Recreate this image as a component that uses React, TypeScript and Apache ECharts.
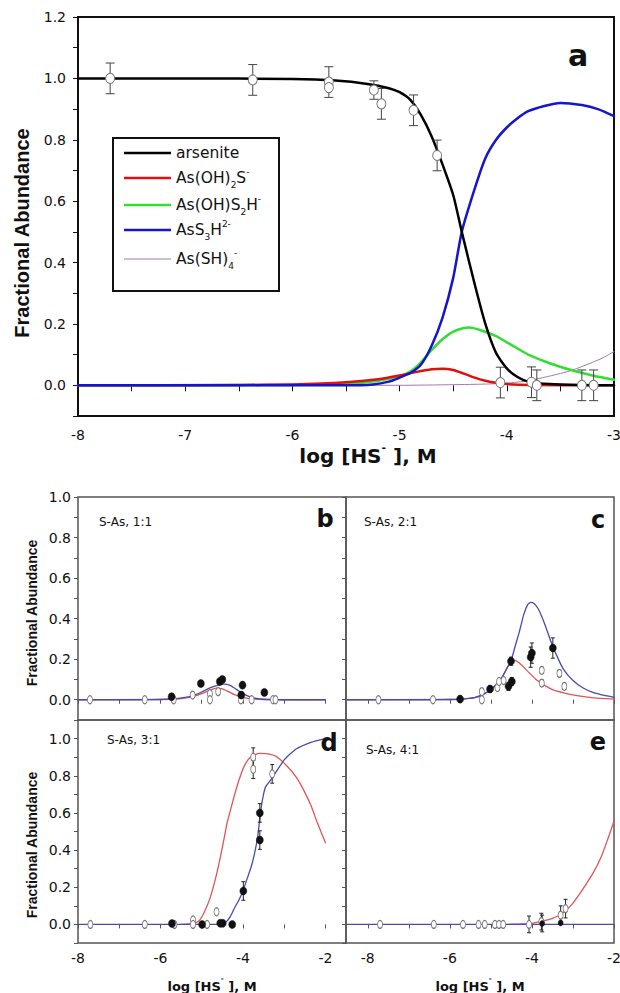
import React, { useEffect, useRef } from 'react';
import * as echarts from 'echarts';

// ---------- Panel a (model curves: [log HS-, fraction]) ----------
const aArsenite = [[-8, 1], [-7, 1], [-6, 0.998], [-5.6, 0.993], [-5.3, 0.982], [-5.1, 0.968], [-5.0, 0.955], [-4.9, 0.93], [-4.8, 0.88], [-4.7, 0.81], [-4.6, 0.72], [-4.5, 0.62], [-4.42, 0.5], [-4.3, 0.33], [-4.2, 0.2], [-4.1, 0.105], [-4.0, 0.055], [-3.9, 0.027], [-3.8, 0.012], [-3.6, 0.004], [-3.3, 0.001], [-3, 0]];
const aMono = [[-8, 0], [-6.5, 0.001], [-6, 0.003], [-5.5, 0.01], [-5.2, 0.02], [-5.0, 0.032], [-4.85, 0.043], [-4.7, 0.052], [-4.6, 0.054], [-4.5, 0.05], [-4.4, 0.038], [-4.3, 0.025], [-4.2, 0.015], [-4.1, 0.008], [-4.0, 0.004], [-3.8, 0.001], [-3, 0]];
const aDi = [[-8, 0], [-6, 0.001], [-5.5, 0.005], [-5.2, 0.015], [-5.0, 0.03], [-4.9, 0.045], [-4.8, 0.075], [-4.7, 0.115], [-4.6, 0.15], [-4.5, 0.175], [-4.4, 0.187], [-4.35, 0.188], [-4.25, 0.18], [-4.1, 0.16], [-4.0, 0.14], [-3.9, 0.12], [-3.8, 0.1], [-3.6, 0.072], [-3.4, 0.05], [-3.2, 0.032], [-3, 0.018]];
const aTri = [[-8, 0], [-5.5, 0], [-5.25, 0.003], [-5.1, 0.012], [-5.0, 0.025], [-4.9, 0.04], [-4.8, 0.068], [-4.7, 0.13], [-4.6, 0.22], [-4.5, 0.35], [-4.42, 0.5], [-4.3, 0.64], [-4.2, 0.74], [-4.1, 0.8], [-4.0, 0.84], [-3.9, 0.87], [-3.8, 0.893], [-3.65, 0.91], [-3.5, 0.92], [-3.3, 0.913], [-3.15, 0.9], [-3, 0.877]];
const aTetra = [[-8, 0], [-5, 0], [-4.5, 0.002], [-4.2, 0.004], [-4, 0.007], [-3.8, 0.015], [-3.6, 0.03], [-3.4, 0.048], [-3.2, 0.075], [-3.1, 0.09], [-3, 0.11]];
// measured arsenite points
const aPtsX = [-7.7, -6.37, -5.66, -5.66, -5.24, -5.17, -4.87, -4.65, -4.06, -3.77, -3.72, -3.3, -3.19];
const aPtsY = [1.0, 0.995, 0.988, 0.97, 0.962, 0.917, 0.896, 0.749, 0.009, 0.01, 0.0, 0.0, 0.0];
const aPtsErr = [0.05, 0.05, 0.05, 0.0, 0.03, 0.05, 0.05, 0.05, 0.05, 0.05, 0.05, 0.05, 0.05];

// ---------- Panel b (S-As 1:1) ----------
const bBlue = [[-8, 0], [-6.5, 0], [-6, 0.001], [-5.7, 0.004], [-5.4, 0.012], [-5.2, 0.022], [-5.0, 0.038], [-4.8, 0.058], [-4.6, 0.072], [-4.45, 0.077], [-4.3, 0.07], [-4.15, 0.05], [-4.0, 0.03], [-3.8, 0.012], [-3.6, 0.004], [-3.4, 0.001], [-3, 0], [-2, 0]];
const bRed = [[-8, 0], [-6, 0.001], [-5.5, 0.006], [-5.2, 0.017], [-5.0, 0.03], [-4.8, 0.047], [-4.65, 0.057], [-4.5, 0.054], [-4.35, 0.04], [-4.2, 0.025], [-4.0, 0.012], [-3.8, 0.004], [-3.5, 0.001], [-3, 0], [-2, 0]];
const bFilledX = [-5.73, -5.02, -4.56, -4.5, -4.01, -4.04, -3.48];
const bFilledY = [0.015, 0.08, 0.09, 0.1, 0.072, 0.023, 0.036];
const bFilledErr = [0.015, 0.015, 0.015, 0.015, 0.015, 0.015, 0.015];
const bOpenX = [-7.71, -6.38, -5.68, -5.22, -4.8, -4.8, -4.6, -4.05, -3.79, -3.27, -3.21];
const bOpenY = [0, 0, 0, 0.023, 0.03, 0.0, 0.04, 0, 0, 0, 0];
const bOpenErr = [0.012, 0.012, 0.012, 0.012, 0.012, 0.012, 0.012, 0.012, 0.012, 0.012, 0.012];

// ---------- Panel c (S-As 2:1) ----------
const cBlue = [[-8.5, 0], [-6.5, 0], [-6, 0.001], [-5.7, 0.003], [-5.4, 0.01], [-5.2, 0.025], [-5.0, 0.05], [-4.8, 0.09], [-4.7, 0.12], [-4.5, 0.2], [-4.4, 0.27], [-4.3, 0.34], [-4.2, 0.42], [-4.1, 0.47], [-4.03, 0.48], [-3.95, 0.475], [-3.85, 0.45], [-3.7, 0.38], [-3.56, 0.3], [-3.4, 0.22], [-3.23, 0.15], [-3.0, 0.095], [-2.75, 0.058], [-2.5, 0.035], [-2.2, 0.02], [-2.0, 0.012]];
const cRed = [[-8.5, 0], [-6, 0.001], [-5.7, 0.003], [-5.4, 0.01], [-5.2, 0.025], [-5.0, 0.05], [-4.8, 0.09], [-4.7, 0.12], [-4.6, 0.16], [-4.5, 0.185], [-4.42, 0.194], [-4.3, 0.18], [-4.1, 0.14], [-3.9, 0.1], [-3.7, 0.072], [-3.5, 0.05], [-3.2, 0.033], [-2.9, 0.02], [-2.5, 0.009], [-2.0, 0.003]];
const cFilledX = [-5.75, -5.02, -4.57, -4.49, -4.51, -4.03, -4.0, -3.49];
const cFilledY = [0.003, 0.053, 0.066, 0.09, 0.19, 0.21, 0.23, 0.255];
const cFilledErr = [0.015, 0.015, 0.02, 0.02, 0.02, 0.05, 0.05, 0.05];
const cOpenX = [-7.74, -6.41, -5.22, -5.22, -4.84, -4.8, -4.69, -3.76, -3.76, -3.33, -3.21];
const cOpenY = [0, 0, 0.04, 0.0, 0.06, 0.09, 0.095, 0.145, 0.082, 0.13, 0.066];
const cOpenErr = [0.012, 0.012, 0.012, 0.012, 0.012, 0.012, 0.012, 0.015, 0.015, 0.015, 0.015];

// ---------- Panel d (S-As 3:1) ----------
const dBlue = [[-8, 0], [-4.7, 0], [-4.5, 0.003], [-4.4, 0.015], [-4.3, 0.045], [-4.2, 0.09], [-4.1, 0.13], [-4.0, 0.18], [-3.9, 0.245], [-3.8, 0.31], [-3.73, 0.37], [-3.65, 0.46], [-3.6, 0.55], [-3.55, 0.64], [-3.5, 0.7], [-3.45, 0.74], [-3.3, 0.785], [-3.0, 0.885], [-2.7, 0.945], [-2.35, 0.98], [-2.0, 1.0]];
const dRed = [[-5.5, 0], [-5.2, 0.005], [-5.07, 0.018], [-4.95, 0.06], [-4.8, 0.14], [-4.65, 0.26], [-4.54, 0.37], [-4.45, 0.47], [-4.38, 0.55], [-4.3, 0.616], [-4.2, 0.7], [-4.06, 0.8], [-3.95, 0.86], [-3.82, 0.9], [-3.6, 0.92], [-3.4, 0.918], [-3.2, 0.905], [-2.92, 0.85], [-2.7, 0.79], [-2.52, 0.72], [-2.35, 0.64], [-2.2, 0.55], [-2.0, 0.44]];
const dFilledX = [-5.72, -4.99, -4.55, -4.49, -4.26, -3.99, -3.59, -3.59];
const dFilledY = [0.005, 0.0, 0.006, 0.006, 0.0, 0.18, 0.454, 0.6];
const dFilledErr = [0.012, 0.012, 0.012, 0.012, 0.012, 0.05, 0.05, 0.05];
const dOpenX = [-7.7, -6.38, -5.66, -5.21, -5.21, -4.87, -4.64, -3.75, -3.75, -3.29];
const dOpenY = [0, 0, 0, 0.024, 0.0, 0.0, 0.068, 0.9, 0.835, 0.81];
const dOpenErr = [0.012, 0.012, 0.012, 0.012, 0.012, 0.012, 0.012, 0.05, 0.05, 0.05];

// ---------- Panel e (S-As 4:1) ----------
const eBlue = [[-8.5, 0], [-2, 0]];
const eRed = [[-4.6, 0], [-4.3, 0.002], [-4.0, 0.006], [-3.7, 0.02], [-3.5, 0.033], [-3.3, 0.052], [-3.15, 0.08], [-3.0, 0.115], [-2.85, 0.16], [-2.7, 0.21], [-2.5, 0.28], [-2.3, 0.37], [-2.15, 0.46], [-2.0, 0.555]];
const eFilledX = [-3.75, -3.3];
const eFilledY = [0.005, 0.008];
const eFilledErr = [0.045, 0.0];
const eOpenX = [-7.7, -6.39, -5.68, -5.3, -5.15, -4.9, -4.8, -4.7, -4.07, -3.77, -3.3, -3.18];
const eOpenY = [0, 0, 0, 0, 0, 0, 0, 0, 0, 0.015, 0.05, 0.085];
const eOpenErr = [0.008, 0.008, 0.008, 0.008, 0.008, 0.008, 0.008, 0.008, 0.045, 0.045, 0.05, 0.05];

// ---------- Tick values ----------
const aXTicks = [-8, -7.5, -7, -6.5, -6, -5.5, -5, -4.5, -4, -3.5, -3];
const aXLabels = [-8, -7, -6, -5, -4, -3];
const aYTicks = [-0.1, 0, 0.1, 0.2, 0.3, 0.4, 0.5, 0.6, 0.7, 0.8, 0.9, 1.0, 1.1, 1.2];
const aYLabels = [0, 0.2, 0.4, 0.6, 0.8, 1.0, 1.2];
const subXTicks = [-8, -7, -6, -5, -4, -3, -2];
const subXLabels = [-8, -6, -4, -2];
const topRowYTicks = [-0.1, 0, 0.1, 0.2, 0.3, 0.4, 0.5, 0.6, 0.7, 0.8, 0.9, 1.0];
const botRowYTicks = [-0.1, 0, 0.1, 0.2, 0.3, 0.4, 0.5, 0.6, 0.7, 0.8, 0.9, 1.0, 1.1];
const subYLabels = [0, 0.2, 0.4, 0.6, 0.8, 1.0];

const zip2 = (xs: number[], ys: number[]) => xs.map((x, i) => [x, ys[i]]);
const zip3 = (xs: number[], ys: number[], es: number[]) => xs.map((x, i) => [x, ys[i], es[i]]);

const TICK_FONT = 'DejaVu Sans';

function errorSeries(idx: number, data: number[][], color: string, cap: number, lw: number) {
  return {
    type: 'custom',
    xAxisIndex: idx,
    yAxisIndex: idx,
    z: 3,
    data,
    encode: { x: 0, y: 1 },
    renderItem: (_params: any, api: any) => {
      const x = api.value(0);
      const y = api.value(1);
      const e = api.value(2);
      if (!e) return { type: 'group', children: [] };
      const p1 = api.coord([x, y + e]);
      const p2 = api.coord([x, y - e]);
      const style = { stroke: color, lineWidth: lw };
      return {
        type: 'group',
        children: [
          { type: 'line', shape: { x1: p1[0], y1: p1[1], x2: p2[0], y2: p2[1] }, style },
          { type: 'line', shape: { x1: p1[0] - cap, y1: p1[1], x2: p1[0] + cap, y2: p1[1] }, style },
          { type: 'line', shape: { x1: p2[0] - cap, y1: p2[1], x2: p2[0] + cap, y2: p2[1] }, style },
        ],
      };
    },
  };
}

function lineSeries(idx: number, data: number[][], color: string, width: number, z = 2) {
  return {
    type: 'line',
    xAxisIndex: idx,
    yAxisIndex: idx,
    data,
    showSymbol: false,
    symbol: 'none',
    smooth: 0.2,
    z,
    lineStyle: { color, width, join: 'round', cap: 'round' },
  };
}

function scatterSeries(idx: number, data: number[][], filled: boolean, size: any, z = 4) {
  return {
    type: 'scatter',
    xAxisIndex: idx,
    yAxisIndex: idx,
    data,
    symbol: 'circle',
    symbolSize: size,
    z,
    itemStyle: filled
      ? { color: '#111', borderColor: '#111', borderWidth: 0.5, opacity: 1 }
      : { color: '#fff', borderColor: '#777', borderWidth: 1, opacity: 1 },
  };
}

function xAxisCfg(idx: number, min: number, max: number, ticks: number[], labels: number[], showLabels: boolean, fontSize: number, margin: number, tickLen: number, color: string) {
  return {
    type: 'value',
    gridIndex: idx,
    min,
    max,
    splitLine: { show: false },
    axisLine: { show: false },
    axisTick: { show: true, customValues: ticks, length: tickLen, lineStyle: { color, width: 1 } },
    axisLabel: {
      show: showLabels,
      customValues: labels,
      margin,
      color: '#111',
      fontFamily: TICK_FONT,
      fontSize,
      formatter: (v: number) => String(v),
    },
  };
}

function yAxisCfg(idx: number, min: number, max: number, ticks: number[], labels: number[], showLabels: boolean, fontSize: number, margin: number, tickLen: number, color: string) {
  return {
    type: 'value',
    gridIndex: idx,
    min,
    max,
    splitLine: { show: false },
    axisLine: { show: false },
    axisTick: { show: true, customValues: ticks, length: tickLen, lineStyle: { color, width: 1 } },
    axisLabel: {
      show: showLabels,
      customValues: labels,
      margin,
      color: '#111',
      fontFamily: TICK_FONT,
      fontSize,
      formatter: (v: number) => v.toFixed(1),
    },
  };
}

const legendItems = [
  { color: '#000000', width: 2.5, text: '{n|arsenite}' },
  { color: '#dd1111', width: 2.5, text: '{n|As(OH)}{sub|2}{n|S}{sup|-}' },
  { color: '#33dd33', width: 2.5, text: '{n|As(OH)S}{sub|2}{n|H}{sup|-}' },
  { color: '#1515cc', width: 2.5, text: '{n|AsS}{sub|3}{n|H}{sup|2-}' },
  { color: '#a27aa6', width: 1, text: '{n|As(SH)}{sub|4}{sup|-}' },
];
const legendRowsY = [153, 178, 205, 230, 259];

export default function App() {
  const ref = useRef<HTMLDivElement>(null);
  useEffect(() => {
    if (!ref.current) return;
    const chart = echarts.init(ref.current, null, { renderer: 'svg' });

    const legendRich = {
      n: { fontSize: 15.5, fontFamily: 'DejaVu Sans', fill: '#111', lineHeight: 22 },
      sub: { fontSize: 9, fontFamily: 'DejaVu Sans', fill: '#111', lineHeight: 9, verticalAlign: 'bottom' },
      sup: { fontSize: 9, fontFamily: 'DejaVu Sans', fill: '#111', lineHeight: 9, verticalAlign: 'top' },
    };

    const legendGraphics: any[] = [
      { type: 'rect', shape: { x: 113, y: 138, width: 166, height: 153 }, style: { fill: '#fff', stroke: '#111', lineWidth: 2 }, z: 10 },
    ];
    legendItems.forEach((it, i) => {
      legendGraphics.push({ type: 'line', shape: { x1: 124, y1: legendRowsY[i], x2: 171, y2: legendRowsY[i] }, style: { stroke: it.color, lineWidth: it.width }, z: 11 });
      legendGraphics.push({ type: 'text', x: 176, y: legendRowsY[i], style: { text: it.text, rich: legendRich, textAlign: 'left', textVerticalAlign: 'middle' }, z: 11 });
    });

    const xNameRich = (size: number) => ({
      b: { fontSize: size, fontWeight: 'bold', fontFamily: 'DejaVu Sans', fill: '#111', lineHeight: size + 8 },
      sup: { fontSize: Math.round(size * 0.55), fontWeight: 'bold', fontFamily: 'DejaVu Sans', fill: '#111', lineHeight: Math.round(size * 0.55), verticalAlign: 'top' },
    });

    const txt = (x: number, y: number, text: string, size: number, opts: any = {}) => ({
      type: 'text',
      x,
      y,
      rotation: opts.rotation || 0,
      z: 12,
      style: {
        text,
        fontSize: size,
        fontFamily: opts.family || 'DejaVu Sans',
        fontWeight: opts.weight || 'normal',
        fill: '#111',
        textAlign: opts.align || 'center',
        textVerticalAlign: 'middle',
      },
    });

    const option: any = {
      animation: false,
      backgroundColor: '#fff',
      grid: [
        { left: 78, top: 17, width: 536, height: 399, show: true, borderColor: '#111', borderWidth: 2, backgroundColor: 'transparent', outerBoundsMode: 'none' },
        { left: 78, top: 497, width: 268, height: 223, show: true, borderColor: '#555', borderWidth: 1.5, backgroundColor: 'transparent', outerBoundsMode: 'none' },
        { left: 346, top: 497, width: 268, height: 223, show: true, borderColor: '#555', borderWidth: 1.5, backgroundColor: 'transparent', outerBoundsMode: 'none' },
        { left: 78, top: 720, width: 268, height: 223, show: true, borderColor: '#555', borderWidth: 1.5, backgroundColor: 'transparent', outerBoundsMode: 'none' },
        { left: 346, top: 720, width: 268, height: 223, show: true, borderColor: '#555', borderWidth: 1.5, backgroundColor: 'transparent', outerBoundsMode: 'none' },
      ],
      xAxis: [
        xAxisCfg(0, -8, -3, aXTicks, aXLabels, true, 14, 12, 6, '#111'),
        xAxisCfg(1, -8, -1.5, subXTicks, subXLabels, false, 14, 8, 4, '#555'),
        xAxisCfg(2, -8.53, -2, subXTicks, subXLabels, false, 14, 8, 4, '#555'),
        xAxisCfg(3, -8, -1.5, subXTicks, subXLabels, true, 14, 8, 4, '#555'),
        xAxisCfg(4, -8.53, -2, subXTicks, subXLabels, true, 14, 8, 4, '#555'),
      ],
      yAxis: [
        yAxisCfg(0, -0.1, 1.2, aYTicks, aYLabels, true, 14, 12, 5, '#111'),
        yAxisCfg(1, -0.1, 1.0, topRowYTicks, subYLabels, true, 14, 7, 4, '#555'),
        yAxisCfg(2, -0.1, 1.0, topRowYTicks, subYLabels, false, 14, 7, 4, '#555'),
        yAxisCfg(3, -0.1, 1.1, botRowYTicks, subYLabels, true, 14, 7, 4, '#555'),
        yAxisCfg(4, -0.1, 1.1, botRowYTicks, subYLabels, false, 14, 7, 4, '#555'),
      ],
      series: [
        // panel a
        lineSeries(0, aTetra, '#a27aa6', 1),
        lineSeries(0, aDi, '#33dd33', 2.5),
        lineSeries(0, aMono, '#dd1111', 2.5),
        lineSeries(0, aTri, '#1515cc', 2.5),
        lineSeries(0, aArsenite, '#000000', 2.5),
        errorSeries(0, zip3(aPtsX, aPtsY, aPtsErr), '#444', 4.5, 1),
        scatterSeries(0, zip2(aPtsX, aPtsY), false, [9, 10]),
        // panel b
        lineSeries(1, bRed, '#e05555', 1.3),
        lineSeries(1, bBlue, '#4a4ab0', 1.3),
        errorSeries(1, zip3(bOpenX, bOpenY, bOpenErr), '#222', 2, 1),
        errorSeries(1, zip3(bFilledX, bFilledY, bFilledErr), '#222', 2, 1),
        scatterSeries(1, zip2(bOpenX, bOpenY), false, [5, 8]),
        scatterSeries(1, zip2(bFilledX, bFilledY), true, [7, 8], 5),
        // panel c
        lineSeries(2, cRed, '#e05555', 1.3),
        lineSeries(2, cBlue, '#4a4ab0', 1.3),
        errorSeries(2, zip3(cOpenX, cOpenY, cOpenErr), '#222', 2, 1),
        errorSeries(2, zip3(cFilledX, cFilledY, cFilledErr), '#222', 2, 1),
        scatterSeries(2, zip2(cOpenX, cOpenY), false, [5, 8]),
        scatterSeries(2, zip2(cFilledX, cFilledY), true, [7, 8], 5),
        // panel d
        lineSeries(3, dRed, '#e05555', 1.3),
        lineSeries(3, dBlue, '#4a4ab0', 1.3),
        errorSeries(3, zip3(dOpenX, dOpenY, dOpenErr), '#222', 2, 1),
        errorSeries(3, zip3(dFilledX, dFilledY, dFilledErr), '#222', 2, 1),
        scatterSeries(3, zip2(dOpenX, dOpenY), false, [5, 8]),
        scatterSeries(3, zip2(dFilledX, dFilledY), true, [7, 8], 5),
        // panel e
        lineSeries(4, eRed, '#e05555', 1.3),
        lineSeries(4, eBlue, '#4a4ab0', 1.3),
        errorSeries(4, zip3(eOpenX, eOpenY, eOpenErr), '#222', 2, 1),
        errorSeries(4, zip3(eFilledX, eFilledY, eFilledErr), '#222', 2, 1),
        scatterSeries(4, zip2(eOpenX, eOpenY), false, [5, 8]),
        scatterSeries(4, zip2(eFilledX, eFilledY), true, [5, 6], 5),
      ],
      graphic: [
        ...legendGraphics,
        // axis titles
        txt(22, 233, 'Fractional Abundance', 20, { weight: 'bold', family: 'Liberation Sans', rotation: Math.PI / 2 }),
        txt(32, 613, 'Fractional Abundance', 14, { weight: 'bold', family: 'Liberation Sans', rotation: Math.PI / 2 }),
        txt(32, 845, 'Fractional Abundance', 14, { weight: 'bold', family: 'Liberation Sans', rotation: Math.PI / 2 }),
        { type: 'text', x: 368, y: 456, z: 12, style: { text: '{b|log [HS}{sup|-}{b| ], M}', rich: xNameRich(20), textAlign: 'center', textVerticalAlign: 'middle' } },
        { type: 'text', x: 212, y: 986, z: 12, style: { text: '{b|log [HS}{sup|-}{b| ], M}', rich: xNameRich(13), textAlign: 'center', textVerticalAlign: 'middle' } },
        { type: 'text', x: 480, y: 986, z: 12, style: { text: '{b|log [HS}{sup|-}{b| ], M}', rich: xNameRich(13), textAlign: 'center', textVerticalAlign: 'middle' } },
        // panel letters
        txt(578, 55, 'a', 30, { weight: 'bold' }),
        txt(325, 519, 'b', 24, { weight: 'bold' }),
        txt(598, 520, 'c', 24, { weight: 'bold' }),
        txt(329, 743, 'd', 24, { weight: 'bold' }),
        txt(598, 742, 'e', 24, { weight: 'bold' }),
        // panel captions
        txt(99, 522, 'S-As, 1:1', 12, { align: 'left' }),
        txt(364, 522, 'S-As, 2:1', 12, { align: 'left' }),
        txt(107, 740, 'S-As, 3:1', 12, { align: 'left' }),
        txt(366, 750, 'S-As, 4:1', 12, { align: 'left' }),
      ],
    };

    chart.setOption(option);
    return () => chart.dispose();
  }, []);

  return <div ref={ref} style={{ position: 'absolute', left: 0, top: 0, width: 620, height: 993 }} />;
}
